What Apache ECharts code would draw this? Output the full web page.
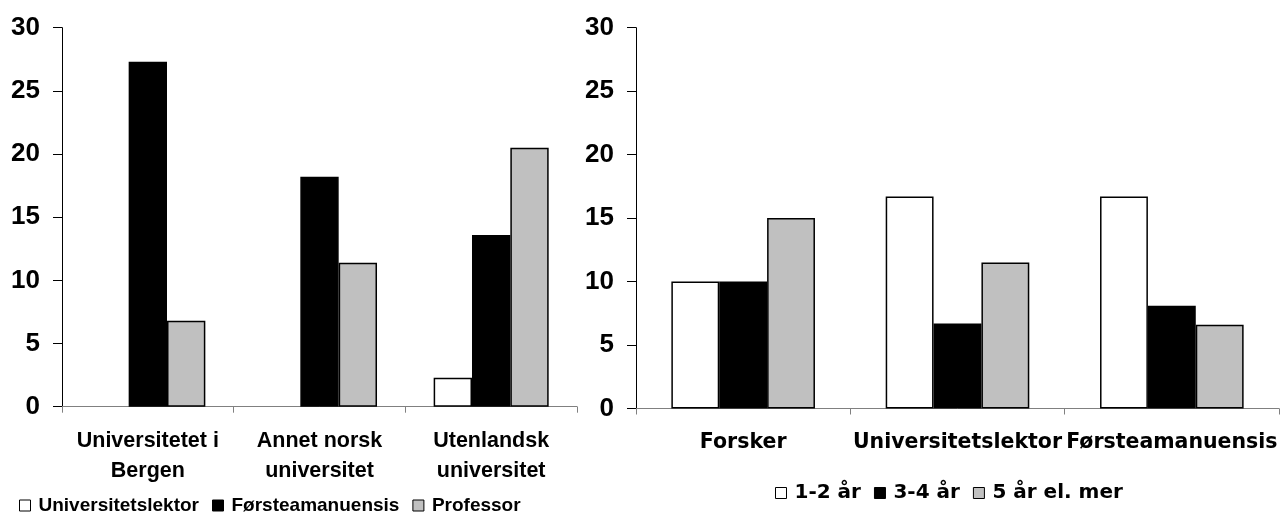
<!DOCTYPE html>
<html>
<head>
<meta charset="utf-8">
<script src="https://cdn.jsdelivr.net/npm/echarts@6/dist/echarts.min.js"></script>
<style>
html,body{margin:0;padding:0;background:#fff;}
#c{width:1282px;height:519px;}
</style>
</head>
<body>
<div id="c"></div>
<script>
// Left chart
const leftCategories = ['Universitetet i\nBergen', 'Annet norsk\nuniversitet', 'Utenlandsk\nuniversitet'];
const leftSeriesNames = ['Universitetslektor', 'Førsteamanuensis', 'Professor'];
const leftUniversitetslektor = [0, 0, 2.3];
const leftForsteamanuensis = [27.3, 18.2, 13.6];
const leftProfessor = [6.8, 11.4, 20.5];

// Right chart
const rightCategories = ['Forsker', 'Universitetslektor', 'Førsteamanuensis'];
const rightSeriesNames = ['1-2 år', '3-4 år', '5 år el. mer'];
const right12 = [10, 16.7, 16.7];
const right34 = [10, 6.7, 8.1];
const right5 = [15, 11.5, 6.6];

const yTicks = { min: 0, max: 30, interval: 5 };

const colors = ['#FFFFFF', '#000000', '#C0C0C0'];
const chart = echarts.init(document.getElementById('c'), null, { renderer: 'canvas' });

function mkData(arr) {
  return arr.map(v => v === 0 ? { value: 0, itemStyle: { borderWidth: 0 } } : v);
}

function yAxis(gi) {
  return {
    type: 'value', gridIndex: gi, min: yTicks.min, max: yTicks.max, interval: yTicks.interval,
    axisLine: { show: true, lineStyle: { color: '#000', width: 1 } },
    axisTick: { show: true, length: 9, lineStyle: { color: '#000' } },
    splitLine: { show: false },
    axisLabel: { margin: 22, color: '#000', fontFamily: 'Liberation Sans', fontWeight: 'bold', fontSize: 26 }
  };
}

function series(name, data, ci, xi) {
  return {
    name: name, type: 'bar', xAxisIndex: xi, yAxisIndex: xi,
    data: mkData(data), barGap: '0%', barCategoryGap: '33%',
    itemStyle: { color: colors[ci], borderColor: '#000', borderWidth: 1.5 },
    emphasis: { disabled: true }, animation: false
  };
}

chart.setOption({
  animation: false,
  grid: [
    { left: 62, top: 27.7, width: 515, height: 379 },
    { left: 636, top: 27.7, right: 3, bottom: 110.5 }
  ],
  xAxis: [
    {
      type: 'category', gridIndex: 0, data: leftCategories,
      axisLine: { lineStyle: { color: '#808080' } },
      axisTick: { show: true, length: 6, lineStyle: { color: '#808080' } },
      axisLabel: { interval: 0, margin: 19, color: '#000', fontFamily: 'Liberation Sans', fontWeight: 'bold', fontSize: 21.5, lineHeight: 30 }
    },
    {
      type: 'category', gridIndex: 1, data: rightCategories,
      axisLine: { lineStyle: { color: '#808080' } },
      axisTick: { show: true, length: 6, lineStyle: { color: '#808080' } },
      axisLabel: { interval: 0, margin: 19, color: '#000', fontFamily: 'DejaVu Sans', fontWeight: 'bold', fontSize: 20.5, lineHeight: 31 }
    }
  ],
  yAxis: [yAxis(0), yAxis(1)],
  legend: [
    {
      data: leftSeriesNames, left: 14, top: 491, itemWidth: 11, itemHeight: 11, itemGap: 13,
      icon: 'rect',
      textStyle: { color: '#000', fontFamily: 'Liberation Sans', fontWeight: 'bold', fontSize: 19, padding: [0, 0, 0, 3] },
      itemStyle: { borderColor: '#000', borderWidth: 1 }, selectedMode: false
    },
    {
      data: rightSeriesNames, left: 770, top: 478, itemWidth: 11, itemHeight: 11, itemGap: 13,
      icon: 'rect',
      textStyle: { color: '#000', fontFamily: 'DejaVu Sans', fontWeight: 'bold', fontSize: 20, padding: [0, 0, 0, 3] },
      itemStyle: { borderColor: '#000', borderWidth: 1 }, selectedMode: false
    }
  ],
  series: [
    series(leftSeriesNames[0], leftUniversitetslektor, 0, 0),
    series(leftSeriesNames[1], leftForsteamanuensis, 1, 0),
    series(leftSeriesNames[2], leftProfessor, 2, 0),
    series(rightSeriesNames[0], right12, 0, 1),
    series(rightSeriesNames[1], right34, 1, 1),
    series(rightSeriesNames[2], right5, 2, 1)
  ]
});
</script>
</body>
</html>
